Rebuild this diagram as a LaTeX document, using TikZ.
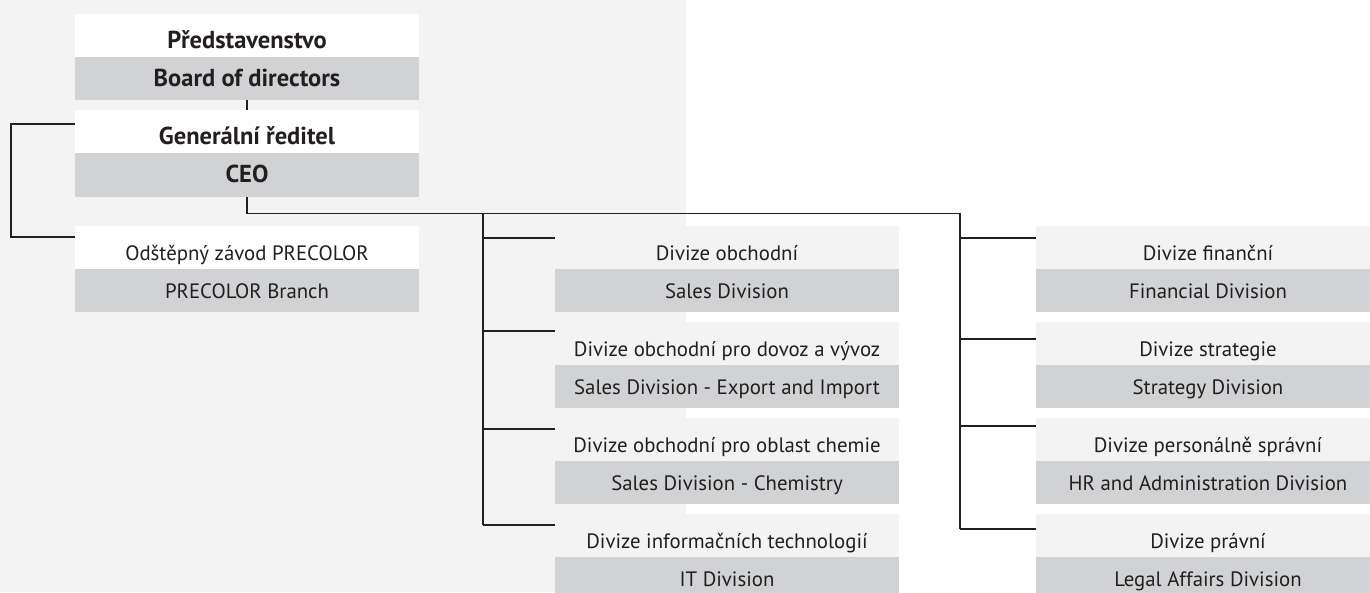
\documentclass[tikz,border=0pt]{standalone}
\usepackage{fontspec}
\setmainfont{PT Sans}
\usetikzlibrary{calc}
\definecolor{bgl}{HTML}{F2F3F2}
\definecolor{bgd}{HTML}{D1D2D4}
\definecolor{ink}{HTML}{231F20}
\begin{document}
\begin{tikzpicture}[x=1pt,y=-1pt,
  font=\fontsize{20.8}{24}\selectfont,
  boldtxt/.style={font=\fontsize{24.5}{28}\selectfont\bfseries},
  half/.style={minimum width=344pt, minimum height=43pt, inner sep=0pt, outer sep=0pt, text=ink},
  toph/.style={half, fill=white, text height=27pt, text depth=2pt},
  toplg/.style={toph, fill=bgl},
  both/.style={half, fill=bgd, text height=17pt, text depth=2pt},
  conn/.style={draw=ink, line width=1.2pt}]
\clip (0,0) rectangle (1370,592);
\useasboundingbox (0,0) rectangle (1370,592);
\fill[bgl] (0,0) rectangle (686,592);
% left column
\node[toph, boldtxt] (b1t) at (247,35.5) {Představenstvo};
\node[both, boldtxt] (b1b) at (247,78.5) {Board of directors};
\node[toph, boldtxt] (b2t) at (247,131.5) {Generální ředitel};
\node[both, minimum height=44pt, boldtxt] (b2b) at (247,175) {CEO};
\node[toph] (b3t) at (247,247.5) {Odštěpný závod PRECOLOR};
\node[both] (b3b) at (247,290.5) {PRECOLOR Branch};
% middle column
\node[toplg] (m1t) at (727,247.5) {Divize obchodní};
\node[both] (m1b) at (727,290.5) {Sales Division};
\node[toplg] (m2t) at (727,343.5) {Divize obchodní pro dovoz a vývoz};
\node[both] (m2b) at (727,386.5) {Sales Division - Export and Import};
\node[toplg] (m3t) at (727,439.5) {Divize obchodní pro oblast chemie};
\node[both] (m3b) at (727,482.5) {Sales Division - Chemistry};
\node[toplg] (m4t) at (727,535.5) {Divize informačních technologií};
\node[both, minimum height=44pt] (m4b) at (727,579) {IT Division};
% right column
\node[toplg] (r1t) at (1208,247.5) {Divize finanční};
\node[both] (r1b) at (1208,290.5) {Financial Division};
\node[toplg] (r2t) at (1208,343.5) {Divize strategie};
\node[both] (r2b) at (1208,386.5) {Strategy Division};
\node[toplg] (r3t) at (1208,439.5) {Divize personálně správní};
\node[both] (r3b) at (1208,482.5) {HR and Administration Division};
\node[toplg] (r4t) at (1208,535.5) {Divize právní};
\node[both, minimum height=44pt] (r4b) at (1208,579) {Legal Affairs Division};
% connectors
\coordinate (hub) at (247,213.5);
\coordinate (mtop) at (483,213.5);
\coordinate (rtop) at (960,213.5);
\coordinate (mbot) at (483,525);
\coordinate (rbot) at (960,529);
\draw[conn] (b1b.south) -- (b2t.north);
\draw[conn] ($(b2t.north west)+(0,14)$) -- ++(-64,0) |- ($(b3t.north west)+(0,11)$);
\draw[conn] (b2b.south) -- (hub) -- (rtop) -- (rbot);
\draw[conn] (mtop) -- (mbot);
\draw[conn] (m1t.north west |- 0,238) -- (483,238);
\draw[conn] (m2t.north west |- 0,331) -- (483,331);
\draw[conn] (m3t.north west |- 0,429) -- (483,429);
\draw[conn] (m4t.north west |- 0,525) -- (mbot);
\draw[conn] (r1t.north west |- 0,238) -- (960,238);
\draw[conn] (r2t.north west |- 0,339) -- (960,339);
\draw[conn] (r3t.north west |- 0,426) -- (960,426);
\draw[conn] (r4t.north west |- 0,529) -- (rbot);
\end{tikzpicture}
\end{document}
